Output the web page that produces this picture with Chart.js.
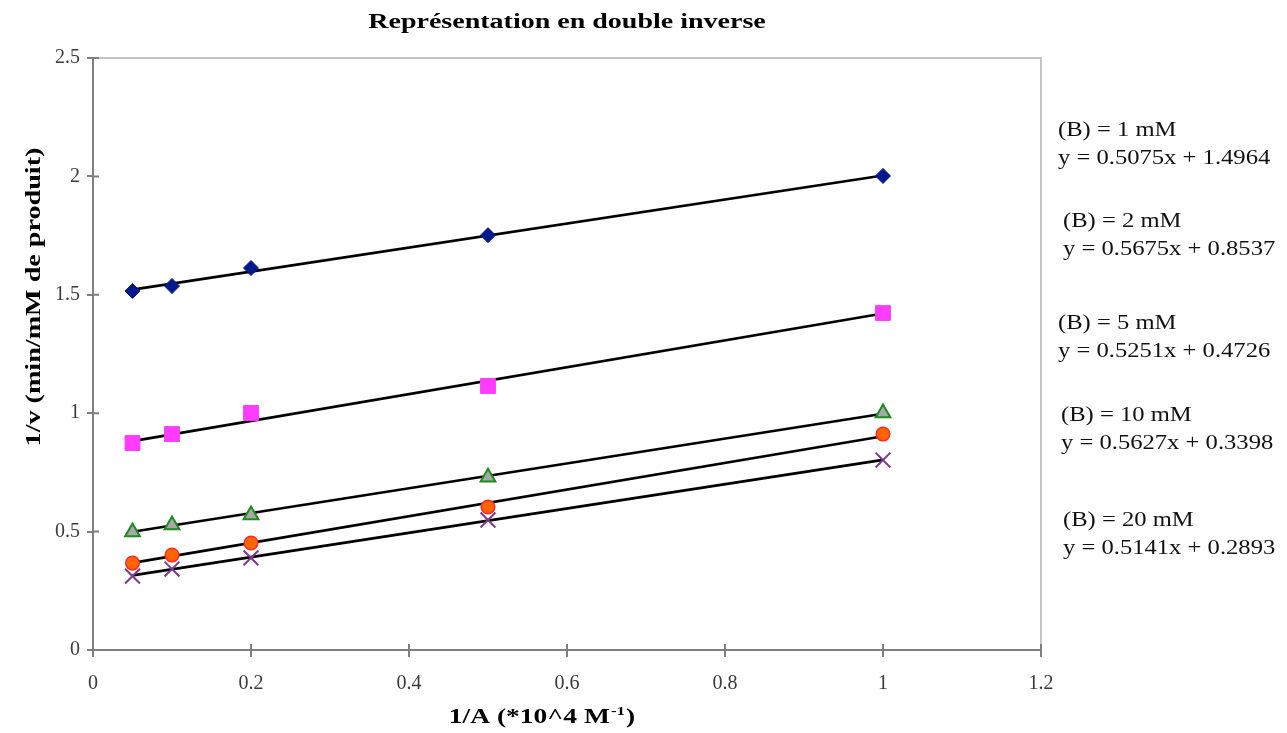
<!DOCTYPE html>
<html>
<head>
<meta charset="utf-8">
<script src="https://cdn.jsdelivr.net/npm/chart.js@4/dist/chart.umd.min.js"></script>
<style>
  html, body { margin: 0; padding: 0; background: #fff; }
  #wrap { width: 1287px; height: 733px; }
</style>
</head>
<body>
<div id="wrap"><canvas id="lbChart"></canvas></div>
<script>
// Données
const xValues = [0.05, 0.1, 0.2, 0.5, 1];
const serieB1 = [1.516, 1.537, 1.613, 1.752, 2.002];
const serieB2 = [0.874, 0.912, 1.001, 1.115, 1.423];
const serieB5 = [0.498, 0.528, 0.570, 0.730, 1.001];
const serieB10 = [0.367, 0.401, 0.452, 0.604, 0.912];
const serieB20 = [0.312, 0.342, 0.389, 0.549, 0.802];

// Extrémités des droites de tendance (x = 0.05 et x = 1)
const fitX = [0.05, 1];
const fitB1 = [1.522, 2.004];
const fitB2 = [0.882, 1.421];
const fitB5 = [0.499, 0.998];
const fitB10 = [0.368, 0.903];
const fitB20 = [0.315, 0.803];

const etiquettes = ['(B) = 1 mM', '(B) = 2 mM', '(B) = 5 mM', '(B) = 10 mM', '(B) = 20 mM'];
const equations = ['y = 0.5075x + 1.4964', 'y = 0.5675x + 0.8537', 'y = 0.5251x + 0.4726',
                   'y = 0.5627x + 0.3398', 'y = 0.5141x + 0.2893'];

const titre = 'Représentation en double inverse';
const titreX = '1/A (*10^4 M';
const titreY = '1/v (min/mM de produit)';

const toPts = (xs, ys) => xs.map((x, i) => ({ x: x, y: ys[i] }));

function fitDataset(ys) {
  return {
    data: toPts(fitX, ys),
    showLine: true,
    borderColor: '#000',
    borderWidth: 2.6,
    pointRadius: 0,
    order: 1
  };
}

const serif = '"Liberation Serif", "DejaVu Serif", serif';

// texte étiré horizontalement (la police d'origine est plus large)
function drawText(ctx, txt, x, y, font, sx, align, rot) {
  ctx.save();
  ctx.translate(x, y);
  if (rot) ctx.rotate(rot);
  ctx.scale(sx, 1);
  ctx.font = font;
  ctx.textAlign = align;
  ctx.textBaseline = 'middle';
  ctx.fillText(txt, 0, 0);
  ctx.restore();
}

const extras = {
  id: 'extras',
  beforeDraw(chart) {
    const { ctx, chartArea: a } = chart;
    ctx.save();
    ctx.strokeStyle = '#c4c4c4';
    ctx.lineWidth = 2;
    ctx.beginPath();
    ctx.moveTo(a.left, a.top);
    ctx.lineTo(a.right, a.top);
    ctx.lineTo(a.right, a.bottom);
    ctx.stroke();
    ctx.restore();
  },
  afterDraw(chart) {
    const { ctx, chartArea: a, scales } = chart;

    // petits traits de graduation côté intérieur
    ctx.save();
    ctx.strokeStyle = '#7f7f7f';
    ctx.lineWidth = 2;
    ctx.beginPath();
    scales.x.ticks.forEach(t => {
      const px = scales.x.getPixelForValue(t.value);
      ctx.moveTo(px, a.bottom);
      ctx.lineTo(px, a.bottom - 6);
    });
    scales.y.ticks.forEach(t => {
      const py = scales.y.getPixelForValue(t.value);
      ctx.moveTo(a.left, py);
      ctx.lineTo(a.left + 6, py);
    });
    ctx.stroke();
    ctx.restore();

    ctx.save();
    ctx.fillStyle = '#111';
    const offX = [17, 22, 17, 20, 22];
    const topY = [131, 222, 324, 416, 521];
    etiquettes.forEach((t, i) => {
      drawText(ctx, t, a.right + offX[i], topY[i], '20px ' + serif, 1.23, 'left');
      drawText(ctx, equations[i], a.right + offX[i], topY[i] + 28, '20px ' + serif, 1.23, 'left');
    });

    ctx.fillStyle = '#000';
    drawText(ctx, titre, (a.left + a.right) / 2, 23, 'bold 20px ' + serif, 1.4, 'center');
    drawText(ctx, titreY, 35, 297, 'bold 21px ' + serif, 1.34, 'center', -Math.PI / 2);

    // titre de l'axe x avec exposant
    const fx = 'bold 21px ' + serif;
    const fs = 'bold 13px ' + serif;
    ctx.font = fx;
    const w1 = ctx.measureText(titreX).width;
    ctx.font = fs;
    const w2 = ctx.measureText('-1').width;
    ctx.font = fx;
    const w3 = ctx.measureText(')').width;
    const sx = 1.31;
    const tot = (w1 + w2 + w3) * sx;
    let x0 = 541 - tot / 2;
    drawText(ctx, titreX, x0, 718, fx, sx, 'left');
    x0 += w1 * sx;
    drawText(ctx, '-1', x0 + 1, 712, fs, sx, 'left');
    x0 += w2 * sx + 2;
    drawText(ctx, ')', x0, 718, fx, sx, 'left');
    ctx.restore();
  }
};

const ctx = document.getElementById('lbChart').getContext('2d');

new Chart(ctx, {
  type: 'scatter',
  data: {
    datasets: [
      { data: toPts(xValues, serieB1), pointStyle: 'rectRot', pointRadius: 7.5,
        backgroundColor: '#001a8c', borderColor: '#001a8c', borderWidth: 1, order: 0 },
      { data: toPts(xValues, serieB2), pointStyle: 'rect', pointRadius: 10.5,
        backgroundColor: '#ff3cff', borderColor: '#ff3cff', borderWidth: 1, order: 0 },
      { data: toPts(xValues, serieB5), pointStyle: 'triangle', pointRadius: 8.5,
        backgroundColor: '#a8a8a8', borderColor: '#1f8a1f', borderWidth: 2, order: 0 },
      { data: toPts(xValues, serieB10), pointStyle: 'circle', pointRadius: 6.8,
        backgroundColor: '#ff6600', borderColor: '#ff2a2a', borderWidth: 1.5, order: 0 },
      { data: toPts(xValues, serieB20), pointStyle: 'crossRot', pointRadius: 10.5,
        backgroundColor: '#7b3a8c', borderColor: '#7b3a8c', borderWidth: 2, order: 0 },
      fitDataset(fitB1),
      fitDataset(fitB2),
      fitDataset(fitB5),
      fitDataset(fitB10),
      fitDataset(fitB20)
    ]
  },
  options: {
    responsive: true,
    maintainAspectRatio: false,
    animation: false,
    layout: { padding: { top: 58, right: 246, left: 0, bottom: 0 } },
    plugins: {
      legend: { display: false },
      tooltip: { enabled: false }
    },
    scales: {
      x: {
        type: 'linear',
        min: 0, max: 1.2,
        ticks: { stepSize: 0.2, color: '#3a3a3a', padding: 15, font: { family: serif, size: 20 },
                 callback: v => String(Math.round(v * 10) / 10) },
        grid: { drawOnChartArea: false, drawTicks: true, tickLength: 7, color: '#7f7f7f', lineWidth: 2 },
        border: { display: true, color: '#7f7f7f', width: 2 },
        afterFit(scale) { scale.height = 83; }
      },
      y: {
        min: 0, max: 2.5,
        ticks: { stepSize: 0.5, color: '#3a3a3a', padding: 7, font: { family: serif, size: 20 },
                 callback: v => String(Math.round(v * 10) / 10) },
        grid: { drawOnChartArea: false, drawTicks: true, tickLength: 6, color: '#7f7f7f', lineWidth: 2 },
        border: { display: true, color: '#7f7f7f', width: 2 },
        afterFit(scale) { scale.width = 93; }
      }
    }
  },
  plugins: [extras]
});
</script>
</body>
</html>
